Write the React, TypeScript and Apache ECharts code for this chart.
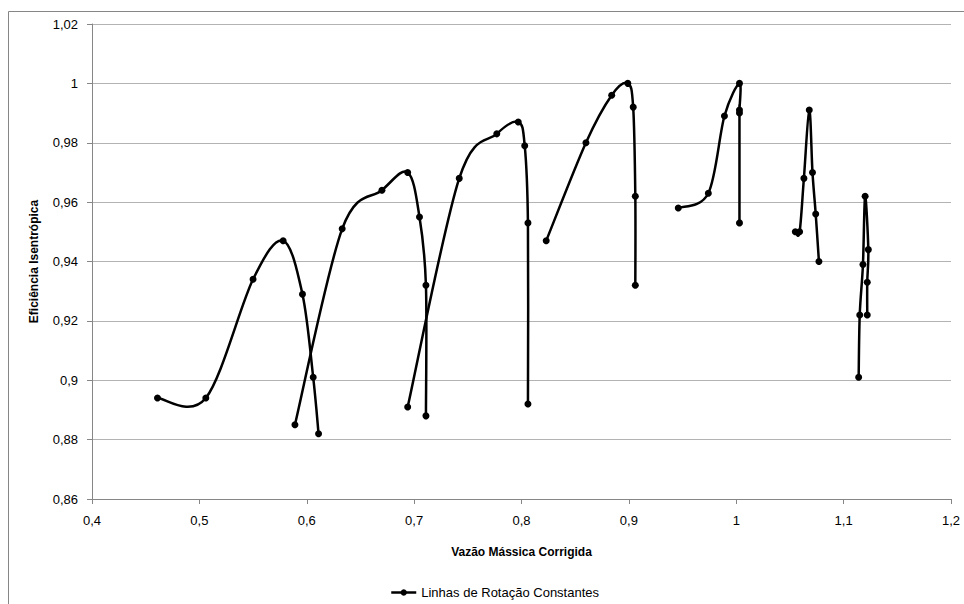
import React, { useEffect, useRef } from "react";
import * as echarts from "echarts";

const seriesName = "Linhas de Rotação Constantes";
const xAxisTitle = "Vazão Mássica Corrigida";
const yAxisTitle = "Eficiência Isentrópica";

const curve1X = [0.461, 0.506, 0.55, 0.578, 0.596, 0.606, 0.611];
const curve1Y = [0.894, 0.894, 0.934, 0.947, 0.929, 0.901, 0.882];
const curve2X = [0.589, 0.633, 0.67, 0.694, 0.705, 0.711, 0.711];
const curve2Y = [0.885, 0.951, 0.964, 0.97, 0.955, 0.932, 0.888];
const curve3X = [0.694, 0.742, 0.777, 0.797, 0.803, 0.806, 0.806];
const curve3Y = [0.891, 0.968, 0.983, 0.987, 0.979, 0.953, 0.892];
const curve4X = [0.823, 0.86, 0.884, 0.899, 0.904, 0.906, 0.906];
const curve4Y = [0.947, 0.98, 0.996, 1.0, 0.992, 0.962, 0.932];
const curve5X = [0.946, 0.974, 0.989, 1.003, 1.003, 1.003, 1.003];
const curve5Y = [0.958, 0.963, 0.989, 1.0, 0.991, 0.99, 0.953];
const curve6X = [1.055, 1.059, 1.063, 1.068, 1.071, 1.074, 1.077];
const curve6Y = [0.95, 0.95, 0.968, 0.991, 0.97, 0.956, 0.94];
const curve7X = [1.114, 1.115, 1.118, 1.12, 1.123, 1.122, 1.122];
const curve7Y = [0.901, 0.922, 0.939, 0.962, 0.944, 0.933, 0.922];

const curves = [
  [curve1X, curve1Y],
  [curve2X, curve2Y],
  [curve3X, curve3Y],
  [curve4X, curve4Y],
  [curve5X, curve5Y],
  [curve6X, curve6Y],
  [curve7X, curve7Y],
];

const FONT = "'Liberation Sans', Arial, sans-serif";

// Excel-like smoothing (Catmull-Rom, tension 1/6) computed in pixel space
function smoothPath(pts: number[][]): string {
  let d = `M${pts[0][0]},${pts[0][1]}`;
  for (let i = 0; i < pts.length - 1; i++) {
    const p0 = pts[i - 1] || pts[i];
    const p1 = pts[i];
    const p2 = pts[i + 1];
    const p3 = pts[i + 2] || pts[i + 1];
    const c1x = p1[0] + (p2[0] - p0[0]) / 6;
    const c1y = p1[1] + (p2[1] - p0[1]) / 6;
    const c2x = p2[0] - (p3[0] - p1[0]) / 6;
    const c2y = p2[1] - (p3[1] - p1[1]) / 6;
    d += ` C${c1x},${c1y} ${c2x},${c2y} ${p2[0]},${p2[1]}`;
  }
  return d;
}

export default function App() {
  const ref = useRef<HTMLDivElement>(null);
  useEffect(() => {
    document.body.style.margin = "0";
    const chart = echarts.init(ref.current!, undefined, { renderer: "svg" });
    const curveSeries = curves.map(([xs, ys], k) => ({
      name: "curve" + k,
      type: "custom",
      coordinateSystem: "cartesian2d",
      encode: { x: 0, y: 1 },
      data: xs.map((x, i) => [x, ys[i]]),
      z: 2,
      silent: true,
      renderItem: (params: any, api: any) => {
        if (params.dataIndex !== 0) return null;
        const pts = xs.map((x, i) => api.coord([x, ys[i]]));
        return {
          type: "path",
          shape: { pathData: smoothPath(pts) },
          style: { fill: "none", stroke: "#000", lineWidth: 2.5 },
        };
      },
    }));
    const pointSeries = curves.map(([xs, ys]) => ({
      name: seriesName,
      type: "line",
      data: xs.map((x, i) => [x, ys[i]]),
      symbol: "circle",
      symbolSize: 7,
      showSymbol: true,
      z: 3,
      lineStyle: { color: "#000", width: 2.5, opacity: 0 },
      itemStyle: { color: "#000" },
      emphasis: { disabled: true },
    }));
    chart.setOption({
      animation: false,
      backgroundColor: "#fff",
      textStyle: { fontFamily: FONT },
      graphic: [
        {
          type: "rect",
          left: 6,
          top: 9,
          shape: { width: 1000, height: 1000 },
          style: { fill: "none", stroke: "#868686", lineWidth: 1 },
          silent: true,
        },
      ],
      grid: { left: 92, right: 13, top: 24, bottom: 105, containLabel: false },
      legend: {
        data: [seriesName],
        left: 385,
        top: 581,
        itemWidth: 25,
        itemHeight: 8,
        itemGap: 10,
        lineStyle: { color: "#000", width: 2.5, opacity: 1 },
        itemStyle: { color: "#000" },
        textStyle: { fontFamily: FONT, fontSize: 13, color: "#000" },
      },
      xAxis: {
        type: "value",
        min: 0.4,
        max: 1.2,
        interval: 0.1,
        name: xAxisTitle,
        nameLocation: "middle",
        nameGap: 47,
        nameTextStyle: { fontFamily: FONT, fontSize: 12, fontWeight: "bold", color: "#000" },
        axisLine: { show: true, lineStyle: { color: "#868686", width: 1 } },
        axisTick: { show: true, length: 5, lineStyle: { color: "#868686" } },
        axisLabel: {
          margin: 15,
          fontFamily: FONT,
          fontSize: 13,
          color: "#000",
          formatter: (v: number) => String(Math.round(v * 10) / 10).replace(".", ","),
        },
        splitLine: { show: false },
      },
      yAxis: {
        type: "value",
        min: 0.86,
        max: 1.02,
        interval: 0.02,
        name: yAxisTitle,
        nameLocation: "middle",
        nameRotate: 90,
        nameGap: 52,
        nameTextStyle: { fontFamily: FONT, fontSize: 12, fontWeight: "bold", color: "#000" },
        axisLine: { show: true, lineStyle: { color: "#868686", width: 1 } },
        axisTick: { show: true, length: 5, lineStyle: { color: "#868686" } },
        axisLabel: {
          margin: 14,
          fontFamily: FONT,
          fontSize: 13,
          color: "#000",
          formatter: (v: number) => String(Math.round(v * 100) / 100).replace(".", ","),
        },
        splitLine: { show: true, lineStyle: { color: "#b3b3b3", width: 1 } },
      },
      series: [...curveSeries, ...pointSeries],
    });
    return () => chart.dispose();
  }, []);
  return <div ref={ref} style={{ width: 964, height: 604 }} />;
}
